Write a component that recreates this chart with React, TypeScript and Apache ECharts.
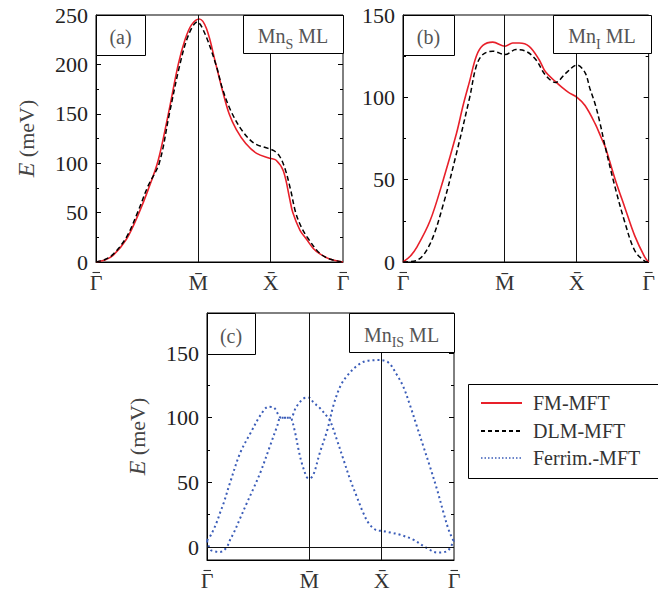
import React, { useEffect, useRef } from "react";
import * as echarts from "echarts";

// k-path positions (Γ–M–X–Γ of a square lattice) and their labels
const kTicks = [0, 1.414, 2.414, 3.414];
const kLabels = ["Γ", "M̄", "X̄", "Γ"];
const kNeedsBar = [true, false, false, true]; // Γ gets its bar drawn separately

const yMajorA = [0, 50, 100, 150, 200, 250];
const yMinorA = [25, 75, 125, 175, 225];
const yMajorB = [0, 50, 100, 150];
const yMinorB = [25, 75, 125];
const yMajorC = [0, 50, 100, 150];
const yMinorC = [25, 75, 125, 175];

const legendNames = ["FM-MFT", "DLM-MFT", "Ferrim.-MFT"];

// (a) Mn_S ML
const kFmA = [0, 0.124, 0.24, 0.42, 0.584, 0.72, 0.86, 1.0, 1.137, 1.23, 1.32, 1.427, 1.528, 1.657, 1.75, 1.84, 1.94, 2.07, 2.22, 2.4, 2.49, 2.59, 2.68, 2.72, 2.82, 2.91, 3.0, 3.09, 3.23, 3.414];
const eFmA = [0, 2, 7, 23, 48, 73, 103, 150, 200, 225, 240, 246, 236, 200, 173, 150, 134, 120, 110, 105, 103, 92, 63, 50, 32, 23, 14, 8.5, 3, 0];
const kDlmA = [0, 0.124, 0.24, 0.42, 0.574, 0.72, 0.874, 1.014, 1.16, 1.28, 1.4, 1.5, 1.657, 1.75, 1.87, 2.03, 2.19, 2.38, 2.45, 2.53, 2.61, 2.69, 2.76, 2.84, 2.93, 3.09, 3.23, 3.414];
const eDlmA = [0, 2.5, 8, 25, 50, 77, 100, 150, 200, 230, 243, 232, 200, 175, 152, 132, 120, 115, 113, 108, 95, 73, 50, 35, 24, 9, 3, 0];

// (b) Mn_I ML
const kFmB = [0, 0.1, 0.193, 0.376, 0.56, 0.743, 0.835, 0.927, 1.019, 1.11, 1.248, 1.418, 1.524, 1.615, 1.753, 1.89, 1.98, 2.12, 2.21, 2.3, 2.419, 2.53, 2.67, 2.76, 2.81, 2.95, 3.084, 3.22, 3.36, 3.414];
const eFmB = [0, 3.5, 9, 25, 50, 78, 95, 110, 125, 131.5, 133.5, 131, 133, 133, 131, 123, 115.5, 109.5, 106, 103, 100, 95, 84, 75, 70, 50, 33, 16, 3, 0];
const kDlmB = [0, 0.193, 0.376, 0.56, 0.743, 0.927, 1.019, 1.11, 1.248, 1.418, 1.57, 1.707, 1.845, 1.98, 2.12, 2.26, 2.419, 2.53, 2.6, 2.67, 2.74, 2.81, 2.95, 3.084, 3.22, 3.36, 3.414];
const eDlmB = [0, 1, 11, 35, 66, 100, 119, 126, 128, 126, 129, 128, 123, 113.5, 109, 114.5, 119.6, 115, 105, 96, 84, 70, 45, 24, 7, 0.5, 0];

// (c) Mn_IS ML, ferrimagnetic branches
const kC1 = [0, 0.046, 0.09, 0.14, 0.18, 0.23, 0.32, 0.46, 0.6, 0.74, 0.85, 0.92, 0.99, 1.02, 1.15, 1.24, 1.37, 1.414, 1.47, 1.56, 1.66, 1.7, 1.795, 1.886, 1.98, 2.07, 2.16, 2.25, 2.37, 2.414, 2.53, 2.67, 2.85, 3.04, 3.18, 3.31, 3.4, 3.414];
const eC1 = [5, 8.5, 13.4, 20, 26.4, 34, 50, 73, 88, 102, 108.5, 108, 102, 100, 100, 109, 115.5, 115.5, 112, 107.5, 101, 98, 83, 67.7, 52, 39, 26.4, 17.3, 12.6, 12.5, 11.3, 9.5, 5.7, -0.8, -4.2, -3.4, 3.1, 5];
const kC2 = [0, 0.046, 0.115, 0.18, 0.23, 0.28, 0.32, 0.37, 0.46, 0.55, 0.64, 0.74, 0.87, 0.97, 1.02, 1.15, 1.17, 1.22, 1.265, 1.31, 1.38, 1.414, 1.47, 1.56, 1.66, 1.75, 1.84, 1.93, 2.07, 2.21, 2.39, 2.51, 2.62, 2.71, 2.81, 2.9, 2.99, 3.08, 3.18, 3.27, 3.34, 3.4, 3.414];
const eC2 = [5, -2, -3.4, -3.9, -2.6, 0.5, 5.7, 11, 22.5, 34, 45, 58, 78, 93.5, 100, 100, 99, 88, 75.4, 65, 54, 53, 56, 73, 90, 110, 124, 132, 140, 144, 144.6, 142.6, 133.6, 124.5, 109, 93.5, 78, 62.5, 44.4, 26.4, 13.4, 5.7, 5];

const yMins = [0, 0, -10];
const yMaxs = [250, 150, 181];

const FONT = "Liberation Serif";
const zip = (k: number[], e: number[]) => k.map((v, i) => [v, e[i]]);
const tStyle = (size: number, color: string) => ({ fontFamily: FONT, fontSize: size, color, fill: color });

function xAxisFor(gridIndex: number) {
  return {
    type: "value",
    gridIndex,
    min: kTicks[0],
    max: kTicks[kTicks.length - 1],
    axisLine: { show: true, onZero: false, lineStyle: { color: "#000", width: 1 } },
    axisTick: { show: false },
    splitLine: { show: false },
    axisLabel: {
      customValues: kTicks,
      showMinLabel: true,
      showMaxLabel: true,
      formatter: (v: number) => {
        let best = 0;
        kTicks.forEach((t, i) => {
          if (Math.abs(t - v) < Math.abs(kTicks[best] - v)) best = i;
        });
        return `{t|${kLabels[best]}}`;
      },
      fontFamily: FONT,
      fontSize: 22,
      color: "#333",
      margin: 9,
      rich: { t: tStyle(22, "#333") },
    },
  };
}

function yAxesFor(gridIndex: number, majors: number[], minors: number[], withName: boolean) {
  const base = { type: "value", gridIndex, min: yMins[gridIndex], max: yMaxs[gridIndex], splitLine: { show: false }, axisLine: { show: false } };
  const tick = (vals: number[], len: number) => ({ customValues: vals, inside: true, length: len, lineStyle: { color: "#000", width: 1 } });
  return [
    {
      ...base,
      position: "left",
      axisLine: { show: true, onZero: false, lineStyle: { color: "#000", width: 1 } },
      axisLabel: {
        customValues: majors,
        formatter: (v: number) => `{t|${v}}`,
        fontFamily: FONT,
        fontSize: 22,
        color: "#222",
        margin: 8,
        rich: { t: tStyle(22, "#222") },
      },
      axisTick: tick(majors, 5),
      ...(withName
        ? {
            name: "{i|E}{t| (meV)}",
            nameLocation: "middle",
            nameGap: 58,
            nameTextStyle: {
              fontFamily: FONT,
              fontSize: 22,
              color: "#444",
              rich: {
                i: { fontFamily: FONT, fontSize: 24, fontStyle: "italic", color: "#444" },
                t: tStyle(22, "#444"),
              },
            },
          }
        : {}),
    },
    { ...base, position: "left", axisLabel: { show: false }, axisTick: tick(minors, 3) },
    { ...base, position: "right", axisLabel: { show: false }, axisTick: tick(majors, 5) },
    { ...base, position: "right", axisLabel: { show: false }, axisTick: tick(minors, 3) },
  ];
}

const vLines = (extra: any[] = []) => ({
  silent: true,
  symbol: "none",
  label: { show: false },
  lineStyle: { color: "#111", width: 1, type: "solid" },
  emphasis: { disabled: true },
  data: [{ xAxis: kTicks[1] }, { xAxis: kTicks[2] }, ...extra],
});

function labelBox(x: number, y: number, w: number, h: number, rich: string) {
  return {
    type: "group",
    z: 100,
    children: [
      { type: "rect", shape: { x: x + 0.5, y: y + 0.5, width: w, height: h }, style: { fill: "#fff", stroke: "#000", lineWidth: 1 }, z: 100 },
      {
        type: "text",
        x: x + w / 2,
        y: y + h / 2 + 1,
        z: 101,
        style: {
          text: rich,
          align: "center",
          verticalAlign: "middle",
          fontFamily: FONT,
          fontSize: 20,
          fill: "#555",
          rich: {
            n: { fontFamily: FONT, fontSize: 20, fill: "#555", verticalAlign: "bottom", lineHeight: 22 },
            s: { fontFamily: FONT, fontSize: 14, fill: "#555", verticalAlign: "bottom", lineHeight: 16, padding: [0, 0, -5, 0] },
          },
        },
      },
    ],
  };
}

const RED = "#e8202a";
const BLUE = "#3a5cb8";

function legendItems() {
  const rows = [
    { y: 403, stroke: RED, lineWidth: 2, lineDash: null as any },
    { y: 431, stroke: "#000", lineWidth: 2, lineDash: [4, 3] },
    { y: 458, stroke: BLUE, lineWidth: 1.6, lineDash: [1.5, 2] },
  ];
  const out: any[] = [
    { type: "rect", z: 1, shape: { x: 468.5, y: 384.5, width: 200, height: 94 }, style: { fill: "#fff", stroke: "#000", lineWidth: 1 } },
  ];
  rows.forEach((r, i) => {
    out.push({
      type: "line",
      z: 2,
      shape: { x1: 481, y1: r.y, x2: 522, y2: r.y },
      style: { stroke: r.stroke, lineWidth: r.lineWidth, lineDash: r.lineDash },
    });
    out.push({
      type: "text",
      z: 2,
      x: 533,
      y: r.y,
      style: {
        text: `{t|${legendNames[i]}}`,
        fontFamily: FONT,
        fontSize: 20,
        fill: "#333",
        verticalAlign: "middle",
        align: "left",
        rich: { t: { fontFamily: FONT, fontSize: 20, fill: "#333" } },
      },
    });
  });
  return out;
}

export default function App() {
  const ref = useRef<HTMLDivElement>(null);
  useEffect(() => {
    if (!ref.current) return;
    const chart = echarts.init(ref.current, null, { renderer: "svg" });
    const red = { color: RED, width: 1.6, type: "solid" };
    const blk = { color: "#000", width: 1.5, type: [5, 3] };
    const blu = { color: BLUE, width: 2, type: [2, 3] };
    const lineBase = { type: "line", symbol: "none", showSymbol: false, smooth: 0.35, emphasis: { disabled: true }, silent: true };
    chart.setOption({
      animation: false,
      backgroundColor: "#fff",
      textStyle: { fontFamily: FONT },
      grid: [
        { left: 96, top: 15, width: 247, height: 247, show: true, borderColor: "#000", borderWidth: 1, backgroundColor: "transparent" },
        { left: 403, top: 15, width: 248, height: 247, show: true, borderColor: "#000", borderWidth: 1, backgroundColor: "transparent" },
        { left: 207, top: 313, width: 247, height: 247, show: true, borderColor: "#000", borderWidth: 1, backgroundColor: "transparent" },
      ],
      xAxis: [xAxisFor(0), xAxisFor(1), xAxisFor(2)],
      yAxis: [
        ...yAxesFor(0, yMajorA, yMinorA, true),
        ...yAxesFor(1, yMajorB, yMinorB, false),
        ...yAxesFor(2, yMajorC, yMinorC, true),
      ],
      series: [
        { ...lineBase, name: legendNames[0], xAxisIndex: 0, yAxisIndex: 0, data: zip(kFmA, eFmA), lineStyle: red, itemStyle: { color: RED }, markLine: vLines(), z: 3 },
        { ...lineBase, name: legendNames[1], xAxisIndex: 0, yAxisIndex: 0, data: zip(kDlmA, eDlmA), lineStyle: blk, itemStyle: { color: "#000" }, z: 4 },
        { ...lineBase, name: legendNames[0], xAxisIndex: 1, yAxisIndex: 4, data: zip(kFmB, eFmB), lineStyle: red, itemStyle: { color: RED }, markLine: vLines(), z: 3 },
        { ...lineBase, name: legendNames[1], xAxisIndex: 1, yAxisIndex: 4, data: zip(kDlmB, eDlmB), lineStyle: blk, itemStyle: { color: "#000" }, z: 4 },
        { ...lineBase, name: legendNames[2], xAxisIndex: 2, yAxisIndex: 8, data: zip(kC1, eC1), lineStyle: blu, itemStyle: { color: BLUE }, markLine: vLines([{ yAxis: 0 }]), z: 3 },
        { ...lineBase, name: legendNames[2], xAxisIndex: 2, yAxisIndex: 8, data: zip(kC2, eC2), lineStyle: blu, itemStyle: { color: BLUE }, z: 3 },
      ],
    });

    // bars over the Γ labels, placed from the axes' own scales
    const bars: any[] = [];
    [0, 1, 2].forEach((g) => {
      kTicks.forEach((k, i) => {
        if (!kNeedsBar[i]) return;
        const p = chart.convertToPixel({ xAxisIndex: g, yAxisIndex: g * 4 } as any, [k, yMins[g]]) as number[];
        if (!p) return;
        bars.push({
          type: "line",
          z: 5,
          shape: { x1: p[0] - 3.5, y1: p[1] + 10.5, x2: p[0] + 4, y2: p[1] + 10.5 },
          style: { stroke: "#333", lineWidth: 1.1 },
        });
      });
    });

    chart.setOption({
      graphic: [
        labelBox(96, 15, 49, 40, "{n|(a)}"),
        labelBox(243, 15, 100, 38, "{n|Mn}{s|S}{n| ML}"),
        labelBox(403, 15, 51, 40, "{n|(b)}"),
        labelBox(553, 15, 98, 38, "{n|Mn}{s|I}{n| ML}"),
        labelBox(207, 313, 48, 41, "{n|(c)}"),
        labelBox(349, 313, 105, 39, "{n|Mn}{s|IS}{n| ML}"),
        ...legendItems(),
        ...bars,
      ],
    });
    return () => chart.dispose();
  }, []);
  return <div ref={ref} style={{ position: "absolute", left: 0, top: 0, width: 658, height: 595 }} />;
}
